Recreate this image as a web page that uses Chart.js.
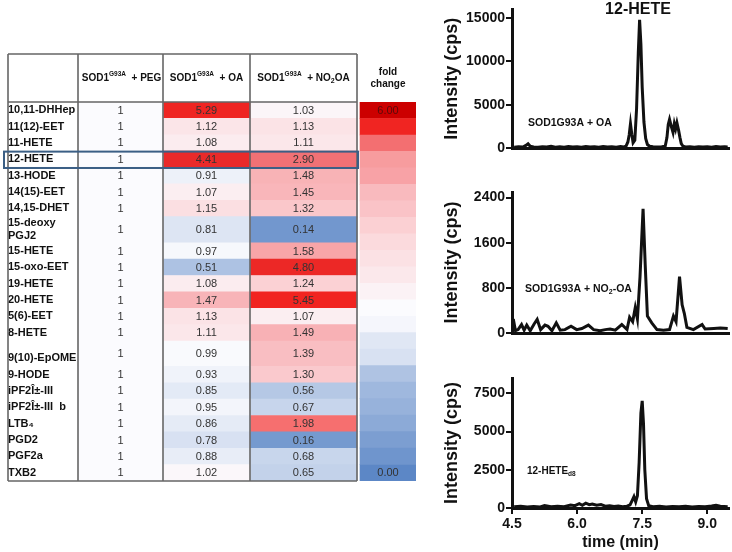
<!DOCTYPE html>
<html>
<head>
<meta charset="utf-8">
<script src="https://cdn.jsdelivr.net/npm/chart.js@4.4.1/dist/chart.umd.min.js"></script>
<style>
  body { margin: 0; background: #fff; }
  #wrap { position: relative; width: 732px; height: 552px; overflow: hidden; }
  canvas { position: absolute; }
</style>
</head>
<body>
<div id="wrap">
  <canvas id="heat" width="430" height="500" style="left:0;top:0"></canvas>
  <canvas id="c1" width="302" height="165" style="left:430px;top:0"></canvas>
  <canvas id="c2" width="302" height="175" style="left:430px;top:170px"></canvas>
  <canvas id="c3" width="302" height="202" style="left:430px;top:350px"></canvas>
</div>
<script>
// ---- heatmap data ----
const lipids = ['10,11-DHHep', '11(12)-EET', '11-HETE', '12-HETE', '13-HODE', '14(15)-EET', '14,15-DHET',
  '15-deoxy PGJ2', '15-HETE', '15-oxo-EET', '19-HETE', '20-HETE', '5(6)-EET', '8-HETE', '9(10)-EpOME',
  '9-HODE', 'iPF2Î±-III', 'iPF2Î±-III  b', 'LTB₄', 'PGD2', 'PGF2a', 'TXB2'];
const foldPEG = [1, 1, 1, 1, 1, 1, 1, 1, 1, 1, 1, 1, 1, 1, 1, 1, 1, 1, 1, 1, 1, 1];
const foldOA = [5.29, 1.12, 1.08, 4.41, 0.91, 1.07, 1.15, 0.81, 0.97, 0.51, 1.08, 1.47, 1.13, 1.11, 0.99,
  0.93, 0.85, 0.95, 0.86, 0.78, 0.88, 1.02];
const foldNO2OA = [1.03, 1.13, 1.11, 2.90, 1.48, 1.45, 1.32, 0.14, 1.58, 4.80, 1.24, 5.45, 1.07, 1.49, 1.39,
  1.30, 0.56, 0.67, 1.98, 0.16, 0.68, 0.65];
// colour key blocks, top to bottom
const keySteps = [6.00, 5.3, 2.5, 1.65, 1.6, 1.42, 1.35, 1.25, 1.18, 1.14, 1.1, 1.05, 1.0, 0.96, 0.83, 0.78,
  0.52, 0.42, 0.37, 0.3, 0.2, 0.12, 0.0];

// ---- chromatogram data (time in min, intensity in cps) ----
const timeOA = [4.55, 4.65, 4.75, 4.82, 4.87, 4.92, 5.0, 5.1, 5.2, 5.3, 5.4, 5.5, 5.6, 5.7, 5.8, 5.9, 6.0, 6.1,
  6.2, 6.3, 6.4, 6.5, 6.6, 6.7, 6.8, 6.9, 7.0, 7.08, 7.13, 7.17, 7.2, 7.23, 7.26, 7.29, 7.33, 7.37, 7.41, 7.44,
  7.47, 7.5, 7.54, 7.58, 7.62, 7.67, 7.75, 7.85, 7.95, 8.03, 8.07, 8.1, 8.13, 8.17, 8.21, 8.24, 8.27, 8.3, 8.34,
  8.37, 8.4, 8.44, 8.5, 8.6, 8.7, 8.8, 8.9, 9.0, 9.1, 9.2, 9.3, 9.4, 9.47];
const cpsOA = [100, 150, 120, 300, 480, 200, 120, 90, 150, 110, 200, 100, 140, 90, 160, 110, 130, 90,
  170, 110, 150, 100, 180, 120, 150, 100, 160, 120, 250, 700, 1500, 2800, 1600, 600, 900, 4500, 11000, 14800,
  12000, 7000, 3000, 1100, 400, 200, 150, 110, 140, 200, 1200, 2700, 3300, 2500, 1800, 2800, 2200, 2900, 2000,
  1200, 500, 200, 120, 150, 100, 140, 110, 150, 100, 160, 110, 130, 120];

const timeNO2OA = [4.53, 4.58, 4.64, 4.72, 4.78, 4.84, 4.92, 5.01, 5.08, 5.16, 5.26, 5.33, 5.42, 5.52, 5.61,
  5.72, 5.86, 5.99, 6.11, 6.26, 6.38, 6.53, 6.65, 6.76, 6.88, 7.03, 7.15, 7.21, 7.28, 7.34, 7.39, 7.45, 7.52,
  7.57, 7.62, 7.72, 7.84, 7.99, 8.13, 8.22, 8.28, 8.36, 8.42, 8.47, 8.53, 8.68, 8.88, 8.95, 9.15, 9.3, 9.47];
const cpsNO2OA = [250, 40, 60, 150, 50, 140, 40, 160, 240, 60, 140, 120, 40, 180, 50,
  60, 120, 60, 80, 140, 60, 40, 60, 70, 50, 150, 60, 280, 200, 450, 250, 1000, 2200,
  1200, 300, 180, 60, 50, 60, 300, 200, 1000, 500, 350, 100, 60, 150, 70, 80, 90, 80];

const timeD8 = [4.55, 4.7, 4.85, 5.0, 5.15, 5.25, 5.4, 5.55, 5.7, 5.85, 5.95, 6.05, 6.12, 6.2, 6.28, 6.35, 6.45,
  6.55, 6.65, 6.75, 6.85, 6.95, 7.05, 7.15, 7.22, 7.27, 7.31, 7.35, 7.39, 7.43, 7.47, 7.5, 7.53, 7.56, 7.6,
  7.65, 7.75, 7.9, 8.05, 8.2, 8.35, 8.5, 8.65, 8.8, 8.95, 9.1, 9.2, 9.3, 9.47];
const cpsD8 = [80, 120, 60, 100, 70, 160, 80, 120, 90, 200, 150, 280, 180, 320, 220, 260, 180,
  220, 120, 150, 100, 130, 90, 120, 200, 500, 750, 400, 800, 3000, 6200, 7000, 5500, 2500, 600,
  150, 90, 110, 70, 100, 80, 120, 70, 100, 80, 130, 180, 120, 90];

const timeTicks = [4.5, 6.0, 7.5, 9.0];

// ---- shared helpers ----
const FONT = "'Liberation Sans', Arial, sans-serif";
const INK = '#111';

function drawParts(ctx, parts, x, y, align) {
  let w = 0;
  parts.forEach(p => {
    ctx.font = (p.bold === false ? '' : 'bold ') + p.size + 'px ' + FONT;
    p.w = ctx.measureText(p.t).width;
    w += p.w;
  });
  let cx = align === 'center' ? x - w / 2 : x;
  ctx.textAlign = 'left';
  ctx.textBaseline = 'middle';
  parts.forEach(p => {
    ctx.font = (p.bold === false ? '' : 'bold ') + p.size + 'px ' + FONT;
    ctx.fillText(p.t, cx, y + (p.dy || 0));
    cx += p.w;
  });
}

// value -> cell colour (blue below 1, white at 1, red above)
const heatStops = [[0, [92, 135, 198]], [1, [251, 251, 254]], [1.2, [251, 214, 217]], [1.5, [248, 176, 180]],
  [2, [246, 108, 108]], [3, [240, 114, 118]], [4.4, [233, 42, 42]], [5.5, [241, 36, 32]], [6, [204, 0, 0]]];
function heat(v) {
  for (let i = 1; i < heatStops.length; i++) {
    const [v0, c0] = heatStops[i - 1], [v1, c1] = heatStops[i];
    if (v <= v1) {
      const t = Math.max(0, (v - v0) / (v1 - v0));
      const c = c0.map((a, k) => Math.round(a + (c1[k] - a) * t));
      return 'rgb(' + c.join(',') + ')';
    }
  }
  return 'rgb(204,0,0)';
}

// ---- heatmap table ----
const tallRows = { '15-deoxy PGJ2': 1.6, '9(10)-EpOME': 1.55 };
const rowH = lipids.map(n => tallRows[n] || 1);
const rowStart = [];
let acc = 0;
rowH.forEach(h => { rowStart.push(acc); acc += h; });
const totalUnits = acc;
const tickVals = lipids.map((n, i) => n === '9(10)-EpOME' ? rowStart[i] + rowH[i] - 0.5 : rowStart[i] + rowH[i] / 2);

const colW = [85, 87, 107];
const colLeft = [0, 85, 172];
const keyLeft = 282, keyW = 56;

const columns = [foldPEG, foldOA, foldNO2OA];
const heatSets = columns.map((vals, c) => ({
  data: vals.map((v, i) => ({
    x: colLeft[c] + colW[c] / 2, y: [rowStart[i], rowStart[i] + rowH[i]], v,
    txt: c === 0 ? String(v) : v.toFixed(2)
  })),
  barThickness: colW[c],
  backgroundColor: ctx => heat(ctx.raw.v),
  borderWidth: 0
}));
const keyUnit = totalUnits / keySteps.length;
heatSets.push({
  data: keySteps.map((v, i) => ({
    x: keyLeft + keyW / 2, y: [i * keyUnit, (i + 1) * keyUnit], v,
    txt: (i === 0 || i === keySteps.length - 1) ? v.toFixed(2) : ''
  })),
  barThickness: keyW,
  backgroundColor: ctx => heat(ctx.raw.v),
  borderWidth: 0
});

const tableDeco = {
  id: 'tableDeco',
  afterDatasetsDraw(chart) {
    const ctx = chart.ctx, area = chart.chartArea;
    const xs = chart.scales.x, ys = chart.scales.y;
    ctx.save();
    // numbers in cells
    ctx.textAlign = 'center';
    ctx.textBaseline = 'middle';
    chart.data.datasets.forEach((ds, di) => {
      chart.getDatasetMeta(di).data.forEach((bar, i) => {
        const raw = ds.data[i];
        if (!raw.txt) return;
        ctx.font = '11px ' + FONT;
        ctx.fillStyle = (di === 3 && i === 0) ? '#5a0a0a' : '#333';
        ctx.fillText(raw.txt, bar.x, (bar.y + bar.base) / 2 + 0.5);
      });
    });
    // table borders
    const top = area.top - 48, left = area.left - 70;
    const edges = [0, 85, 172, 279].map(e => xs.getPixelForValue(e));
    ctx.strokeStyle = '#666';
    ctx.lineWidth = 1.6;
    ctx.beginPath();
    [left].concat(edges).forEach(x => { ctx.moveTo(x, top); ctx.lineTo(x, area.bottom); });
    [top, area.top, area.bottom].forEach(y => { ctx.moveTo(left, y); ctx.lineTo(edges[3], y); });
    ctx.stroke();
    // highlighted 12-HETE row
    const r = lipids.indexOf('12-HETE');
    const y0 = ys.getPixelForValue(rowStart[r]), y1 = ys.getPixelForValue(rowStart[r] + rowH[r]);
    ctx.strokeStyle = '#3b5f85';
    ctx.lineWidth = 2;
    ctx.strokeRect(4, y0 + 0.5, edges[3] - 3, y1 - y0);
    // header
    ctx.fillStyle = INK;
    const hy = area.top - 24;
    const sod = [{ t: 'SOD1', size: 10 }, { t: 'G93A', size: 6.5, dy: -4 }];
    drawParts(ctx, sod.concat([{ t: '  + PEG', size: 10 }]), (edges[0] + edges[1]) / 2 + 1, hy, 'center');
    drawParts(ctx, sod.concat([{ t: '  + OA', size: 10 }]), (edges[1] + edges[2]) / 2, hy, 'center');
    drawParts(ctx, sod.concat([{ t: '  + NO', size: 10 }, { t: '2', size: 7, dy: 3 }, { t: 'OA', size: 10 }]),
      (edges[2] + edges[3]) / 2, hy, 'center');
    const kx = xs.getPixelForValue(keyLeft + keyW / 2);
    drawParts(ctx, [{ t: 'fold', size: 10 }], kx, area.top - 30, 'center');
    drawParts(ctx, [{ t: 'change', size: 10 }], kx, area.top - 18, 'center');
    ctx.restore();
  }
};

new Chart(document.getElementById('heat'), {
  type: 'bar',
  data: { datasets: heatSets },
  options: {
    responsive: false,
    animation: false,
    events: [],
    layout: { padding: { left: 8, top: 102, right: 14, bottom: 19 } },
    plugins: { legend: { display: false }, tooltip: { enabled: false } },
    datasets: { bar: { grouped: false } },
    scales: {
      x: { type: 'linear', min: 0, max: 338, offset: false, display: false },
      y: {
        type: 'linear', reverse: true, min: 0, max: totalUnits,
        grid: { display: false }, border: { display: false },
        afterFit: s => { s.width = 70; },
        afterBuildTicks: s => { s.ticks = tickVals.map(v => ({ value: v })); },
        ticks: {
          autoSkip: false, crossAlign: 'far', padding: 0, color: INK,
          font: { family: FONT, size: 11, weight: 'bold' },
          callback: (v, i) => {
            const n = lipids[i];
            return tallRows[n] && n.includes(' ') ? n.split(' ') : n;
          }
        }
      }
    }
  },
  plugins: [tableDeco]
});

// ---- chromatograms ----
const notesPlugin = {
  id: 'notes',
  afterDraw(chart, args, opts) {
    const ctx = chart.ctx, area = chart.chartArea;
    ctx.save();
    ctx.fillStyle = INK;
    (opts.items || []).forEach(it => {
      const y = it.fromTop ? area.top + it.dy : area.bottom + it.dy;
      drawParts(ctx, it.parts, area.left + it.dx, y, it.align || 'left');
    });
    ctx.restore();
  }
};

function trace(id, times, cps, yMax, yTicks, pad, showX, items) {
  return new Chart(document.getElementById(id), {
    type: 'line',
    data: {
      datasets: [{
        data: times.map((t, i) => ({ x: t, y: cps[i] })),
        borderColor: INK, borderWidth: 3, pointRadius: 0, tension: 0, fill: false
      }]
    },
    options: {
      responsive: false,
      animation: false,
      events: [],
      layout: { padding: pad },
      plugins: { legend: { display: false }, tooltip: { enabled: false }, notes: { items } },
      scales: {
        x: {
          type: 'linear', min: 4.5, max: 9.5,
          afterBuildTicks: s => { s.ticks = timeTicks.map(v => ({ value: v })); },
          afterFit: s => { s.height = showX ? 44 : 10; },
          border: { display: true, color: INK, width: 3 },
          grid: { display: showX, drawOnChartArea: false, drawTicks: showX, tickLength: 6, color: INK, lineWidth: 2 },
          ticks: {
            display: showX, color: INK, padding: 2,
            font: { family: FONT, size: 14, weight: 'bold' },
            callback: v => v.toFixed(1)
          },
          title: {
            display: showX, text: 'time (min)', color: INK, padding: 0,
            font: { family: FONT, size: 16, weight: 'bold' }
          }
        },
        y: {
          min: 0, max: yMax,
          afterBuildTicks: s => { s.ticks = yTicks.map(v => ({ value: v })); },
          afterFit: s => { s.width = 71; },
          border: { display: true, color: INK, width: 3 },
          grid: { drawOnChartArea: false, drawTicks: true, tickLength: 6, color: INK, lineWidth: 2 },
          ticks: {
            color: INK, padding: 1,
            font: { family: FONT, size: 14, weight: 'bold' },
            callback: v => String(v)
          },
          title: {
            display: true, text: 'Intensity (cps)', color: INK, padding: 0,
            font: { family: FONT, size: 18, weight: 'bold' }
          }
        }
      }
    },
    plugins: [notesPlugin]
  });
}

trace('c1', timeOA, cpsOA, 16000, [0, 5000, 10000, 15000],
  { top: 8, left: 11, right: 3, bottom: 7 }, false, [
    { parts: [{ t: '12-HETE', size: 16 }], dx: 126, dy: 0, fromTop: true, align: 'center' },
    { parts: [{ t: 'SOD1G93A + OA', size: 10.5 }], dx: 16, dy: -25 }
  ]);
trace('c2', timeNO2OA, cpsNO2OA, 2500, [0, 800, 1600, 2400],
  { top: 22, left: 11, right: 3, bottom: 2 }, false, [
    { parts: [{ t: 'SOD1G93A + NO', size: 10.5 }, { t: '2', size: 7, dy: 3 }, { t: '-OA', size: 10.5 }], dx: 13, dy: -44 }
  ]);
trace('c3', timeD8, cpsD8, 8500, [0, 2500, 5000, 7500],
  { top: 28, left: 11, right: 3, bottom: 0 }, true, [
    { parts: [{ t: '12-HETE', size: 10 }, { t: 'd8', size: 6.5, dy: 3 }], dx: 15, dy: -37 }
  ]);
</script>
</body>
</html>
